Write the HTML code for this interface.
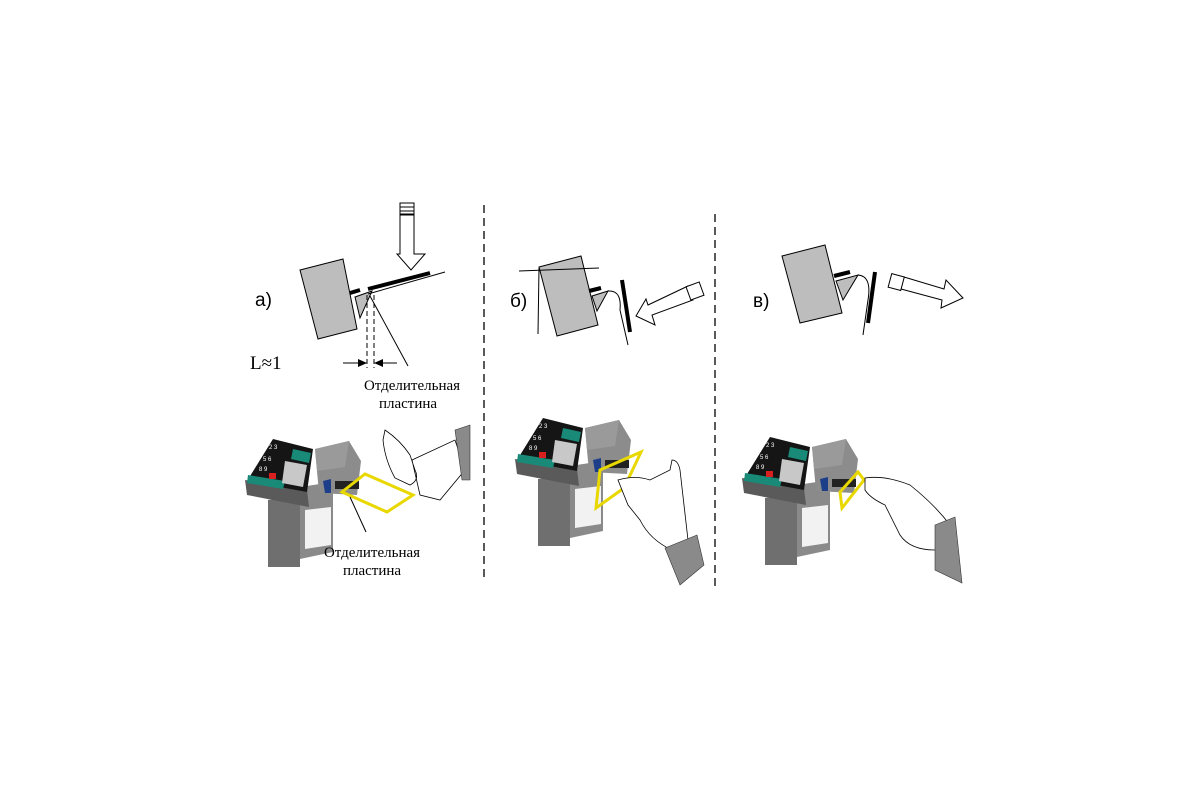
<!DOCTYPE html>
<html><head><meta charset="utf-8"><style>
html,body{margin:0;padding:0;background:#fff;}
svg{display:block}
text{font-family:"Liberation Sans",sans-serif;}
.serif{font-family:"Liberation Serif",serif;}
</style></head><body>
<svg width="1200" height="800" viewBox="0 0 1200 800" xmlns="http://www.w3.org/2000/svg">
<defs>
<g id="dev">
  <polygon points="23,63 55,60 55,130 23,130" fill="#6f6f6f"/>
  <polygon points="55,50 88,45 88,115 55,122" fill="#8a8a8a"/>
  <polygon points="60,73 86,70 86,108 60,112" fill="#f2f2f2"/>
  <polygon points="0,43 62,53 64,70 2,58" fill="#5a5a5a"/>
  <polygon points="28,2 68,12 62,55 2,44" fill="#151515"/>
  <polygon points="3,38 40,44 38,52 2,46" fill="#1a8a78"/>
  <polygon points="48,12 66,16 64,26 46,22" fill="#1a8a78"/>
  <polygon points="40,24 62,28 58,50 37,46" fill="#c8c8c8"/>
  <rect x="24" y="36" width="7" height="6" fill="#d82020"/>
  <text x="24" y="12" font-size="6" fill="#fff">2 3</text>
  <text x="18" y="24" font-size="6" fill="#fff">5 6</text>
  <text x="14" y="34" font-size="6" fill="#fff">8 9</text>
  <polygon points="70,12 104,4 116,24 112,58 74,56" fill="#8c8c8c"/>
  <polygon points="70,12 104,4 100,30 72,34" fill="#9a9a9a"/>
  <rect x="90" y="44" width="24" height="8" fill="#222"/>
  <polygon points="78,44 86,42 86,56 80,56" fill="#1d3f8a"/>
</g>
</defs>

<line x1="484" y1="205" x2="484" y2="582" stroke="#000" stroke-width="1.3" stroke-dasharray="8,5"/>
<line x1="715" y1="214" x2="715" y2="586" stroke="#000" stroke-width="1.3" stroke-dasharray="8,5"/>

<!-- panel a -->
<text x="255" y="306" font-size="19">а)</text>
<polygon points="300,270 343,259 357,329 318,339" fill="#bdbdbd" stroke="#000" stroke-width="1"/>
<line x1="350" y1="293" x2="360" y2="290" stroke="#000" stroke-width="4"/>
<polygon points="355,297 372,291 360,318" fill="#bdbdbd" stroke="#000" stroke-width="1"/>
<line x1="368" y1="294" x2="445" y2="272" stroke="#000" stroke-width="1"/>
<line x1="368" y1="289" x2="430" y2="273" stroke="#000" stroke-width="4"/>
<line x1="367" y1="295" x2="367" y2="368" stroke="#000" stroke-dasharray="5,3"/>
<line x1="374" y1="295" x2="374" y2="368" stroke="#000" stroke-dasharray="5,3"/>
<line x1="370" y1="296" x2="408" y2="366" stroke="#000"/>
<line x1="343" y1="363" x2="366" y2="363" stroke="#000"/>
<polygon points="367,363 358,359 358,367" fill="#000"/>
<line x1="375" y1="363" x2="397" y2="363" stroke="#000"/>
<polygon points="374,363 383,359 383,367" fill="#000"/>
<text x="250" y="369" font-size="19" class="serif">L≈1</text>
<polygon points="400,215 414,215 414,254 425,254 411,270 397,254 400,254" fill="#fff" stroke="#000"/>
<rect x="400" y="203" width="14" height="11" fill="#fff" stroke="#000"/>
<line x1="400" y1="207" x2="414" y2="207" stroke="#000"/><line x1="400" y1="211" x2="414" y2="211" stroke="#000"/>
<text x="412" y="390" font-size="15" text-anchor="middle" class="serif">Отделительная</text>
<text x="408" y="408" font-size="15" text-anchor="middle" class="serif">пластина</text>

<!-- panel b -->
<text x="510" y="307" font-size="19">б)</text>
<polygon points="539,267 581,256 598,325 557,336" fill="#bdbdbd" stroke="#000"/>
<line x1="519" y1="271" x2="599" y2="268" stroke="#000"/>
<line x1="539" y1="268" x2="538" y2="334" stroke="#000"/>
<line x1="589" y1="291" x2="601" y2="288" stroke="#000" stroke-width="4"/>
<polygon points="592,296 608,291 597,311" fill="#bdbdbd" stroke="#000"/>
<path d="M608,291 Q622,290 620,310 L628,345" fill="none" stroke="#000"/>
<line x1="622" y1="280" x2="630" y2="332" stroke="#000" stroke-width="4"/>
<polygon points="688,286 693,300 652,315 655,325 636,316 646,299 648,305" fill="#fff" stroke="#000"/>
<rect x="688" y="284" width="14" height="14" fill="#fff" stroke="#000" transform="rotate(-20 695 291)"/>

<!-- panel c -->
<text x="753" y="307" font-size="19">в)</text>
<polygon points="782,256 825,245 842,313 800,323" fill="#bdbdbd" stroke="#000"/>
<line x1="834" y1="276" x2="850" y2="272" stroke="#000" stroke-width="4"/>
<polygon points="836,281 858,275 843,300" fill="#bdbdbd" stroke="#000"/>
<path d="M858,275 Q872,276 868,300 L863,335" fill="none" stroke="#000"/>
<line x1="875" y1="272" x2="868" y2="323" stroke="#000" stroke-width="4"/>
<polygon points="904,277 944,289 946,280 963,298 941,308 942,300 901,289" fill="#fff" stroke="#000"/>
<rect x="890" y="275" width="13" height="14" fill="#fff" stroke="#000" transform="rotate(15 896 281)"/>

<use href="#dev" x="245" y="437"/>
<use href="#dev" x="515" y="416"/>
<use href="#dev" x="742" y="435"/>

<polygon points="365,474 413,495 387,512 342,492" fill="none" stroke="#e8d800" stroke-width="3"/>
<polygon points="600,470 641,452 624,488 596,508" fill="none" stroke="#e8d800" stroke-width="3"/>
<polygon points="840,492 858,472 864,480 842,508" fill="none" stroke="#e8d800" stroke-width="3"/>

<path d="M385,430 Q400,440 410,455 L415,470 Q420,480 410,485 L395,478 Q385,460 383,440 Z M412,460 L455,440 L465,470 L440,500 L420,495 Z" fill="#fff" stroke="#000" stroke-width="0.8"/>
<polygon points="455,430 470,425 470,480 462,480" fill="#8a8a8a" stroke="#333" stroke-width="0.6"/>
<path d="M618,480 Q635,475 650,480 L670,470 L672,460 Q678,460 680,470 L688,540 L672,550 Q650,540 640,520 L628,505 Z" fill="#fff" stroke="#000" stroke-width="0.8"/>
<polygon points="665,548 697,535 704,565 680,585" fill="#8a8a8a" stroke="#333" stroke-width="0.6"/>
<path d="M865,478 Q885,475 910,485 Q935,505 950,525 L935,550 Q910,550 900,535 L885,505 Q870,498 865,490 Z" fill="#fff" stroke="#000" stroke-width="0.8"/>
<polygon points="935,525 955,517 962,583 935,570" fill="#8a8a8a" stroke="#333" stroke-width="0.6"/>

<line x1="350" y1="497" x2="366" y2="532" stroke="#000"/>
<text x="372" y="557" font-size="15" text-anchor="middle" class="serif">Отделительная</text>
<text x="372" y="575" font-size="15" text-anchor="middle" class="serif">пластина</text>
</svg>
</body></html>
